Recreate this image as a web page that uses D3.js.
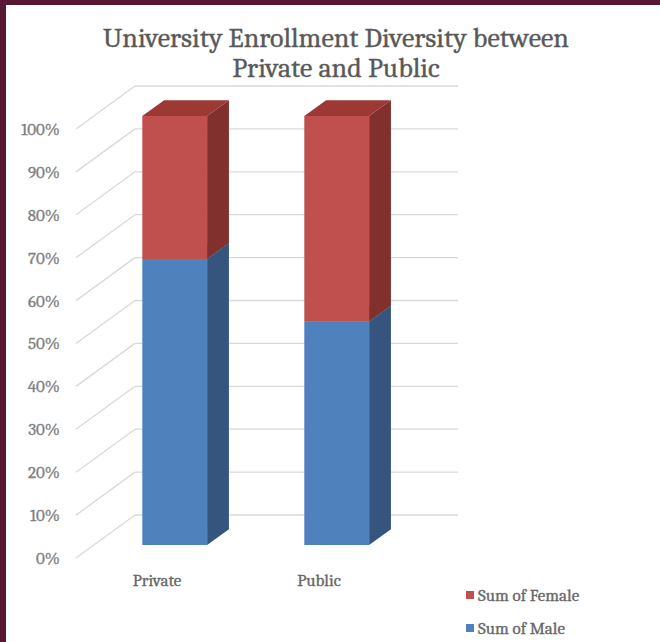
<!DOCTYPE html>
<html>
<head>
<meta charset="utf-8">
<script src="https://cdn.jsdelivr.net/npm/d3@7"></script>
<style>
  html, body { margin: 0; padding: 0; background: #ffffff; }
  svg { display: block; }
</style>
</head>
<body>
<svg id="chart" width="660" height="642"></svg>
<script>
// ---- data ----
const categories = ["Private", "Public"];
const maleShare = [66.7, 52.1];     // Sum of Male (% of total)
const femaleShare = [33.3, 47.9];   // Sum of Female (% of total)
const tickValues = [0, 10, 20, 30, 40, 50, 60, 70, 80, 90, 100];
const tickLabels = ["0%", "10%", "20%", "30%", "40%", "50%", "60%", "70%", "80%", "90%", "100%"];
const seriesNames = ["Sum of Female", "Sum of Male"];
const titleLines = ["University Enrollment Diversity between", "Private and Public"];

// ---- layout ----
const W = 660, H = 642;
const svg = d3.select("#chart");
const serif = "Cambria, 'Liberation Serif', 'DejaVu Serif', serif";

// frame
svg.append("rect").attr("x", 0).attr("y", 0).attr("width", W).attr("height", H).attr("fill", "#ffffff");
svg.append("rect").attr("x", 0).attr("y", 0).attr("width", W).attr("height", 5).attr("fill", "#5a1731");
svg.append("rect").attr("x", 0).attr("y", 0).attr("width", 6).attr("height", H).attr("fill", "#5a1731");

// scales (front plane, depth 0)
const y = d3.scaleLinear().domain([0, 100]).range([558, 129]);
const x = d3.scaleBand().domain(categories).range([76, 400]).padding(0);
const depth = { dx: 59, dy: 43 };
const P = (xf, v, d) => [xf + d * depth.dx, y(v) - d * depth.dy];

// walls: gridlines (side wall diagonals + back wall horizontals)
const grid = svg.append("g").attr("stroke", "#d9d9d9").attr("stroke-width", 1.3).attr("fill", "none");
const xBackEnd = 458;
tickValues.forEach(v => {
  const a = P(76, v, 0), b = P(76, v, 1);
  grid.append("line").attr("x1", a[0]).attr("y1", a[1]).attr("x2", b[0]).attr("y2", b[1]);
  grid.append("line").attr("x1", b[0]).attr("y1", b[1]).attr("x2", xBackEnd).attr("y2", b[1]);
});

// tick labels
svg.append("g").selectAll("text").data(tickValues).join("text")
  .attr("x", 60).attr("y", d => y(d)).attr("dy", "0.35em")
  .attr("text-anchor", "end")
  .attr("font-family", serif).attr("font-size", 17).attr("fill", "#808080")
  .attr("stroke", "#808080").attr("stroke-width", 0.3)
  .text((d, i) => tickLabels[i]);

// bars
const d0 = 0.30, d1 = 0.67;
const barW = x.bandwidth() * 0.4;
const colors = {
  male: { front: "#4f81bd", side: "#35557e", top: "#4272ab" },
  female: { front: "#c0504d", side: "#82302e", top: "#9c3935" }
};
const poly = pts => "M" + pts.map(p => p.join(",")).join("L") + "Z";

const stacks = categories.map((c, i) => [
  { cat: c, lo: 0, hi: maleShare[i], col: colors.male },
  { cat: c, lo: maleShare[i], hi: maleShare[i] + femaleShare[i], col: colors.female }
]);

const bars = svg.append("g");
stacks.forEach(segs => {
  segs.forEach(s => {
    const xl = x(s.cat) + (x.bandwidth() - barW) / 2;
    const xr = xl + barW;
    const g = bars.append("g");
    g.append("path").attr("fill", s.col.side)
      .attr("d", poly([P(xr, s.lo, d0), P(xr, s.lo, d1), P(xr, s.hi, d1), P(xr, s.hi, d0)]));
    g.append("path").attr("fill", s.col.top)
      .attr("d", poly([P(xl, s.hi, d0), P(xr, s.hi, d0), P(xr, s.hi, d1), P(xl, s.hi, d1)]));
    g.append("path").attr("fill", s.col.front)
      .attr("d", poly([P(xl, s.lo, d0), P(xr, s.lo, d0), P(xr, s.hi, d0), P(xl, s.hi, d0)]));
  });
});

// category labels
svg.append("g").selectAll("text").data(categories).join("text")
  .attr("x", d => x(d) + x.bandwidth() / 2)
  .attr("y", 586)
  .attr("text-anchor", "middle")
  .attr("font-family", serif).attr("font-size", 17).attr("fill", "#666666")
  .attr("stroke", "#666666").attr("stroke-width", 0.3)
  .text(d => d);

// title
svg.append("g").selectAll("text").data(titleLines).join("text")
  .attr("x", 336).attr("y", (d, i) => 47 + i * 30)
  .attr("text-anchor", "middle")
  .attr("font-family", serif).attr("font-size", 28).attr("fill", "#595959")
  .attr("stroke", "#595959").attr("stroke-width", 0.3)
  .text(d => d);

// legend
const legendColors = [colors.female.front, colors.male.front];
const lg = svg.append("g");
seriesNames.forEach((n, i) => {
  const yy = 595 + i * 33;
  lg.append("rect").attr("x", 466).attr("y", yy - 4).attr("width", 8).attr("height", 8).attr("fill", legendColors[i]);
  lg.append("text").attr("x", 478).attr("y", yy).attr("dy", "0.35em")
    .attr("font-family", serif).attr("font-size", 17).attr("fill", "#666666")
    .attr("stroke", "#666666").attr("stroke-width", 0.3).text(n);
});
</script>
</body>
</html>
